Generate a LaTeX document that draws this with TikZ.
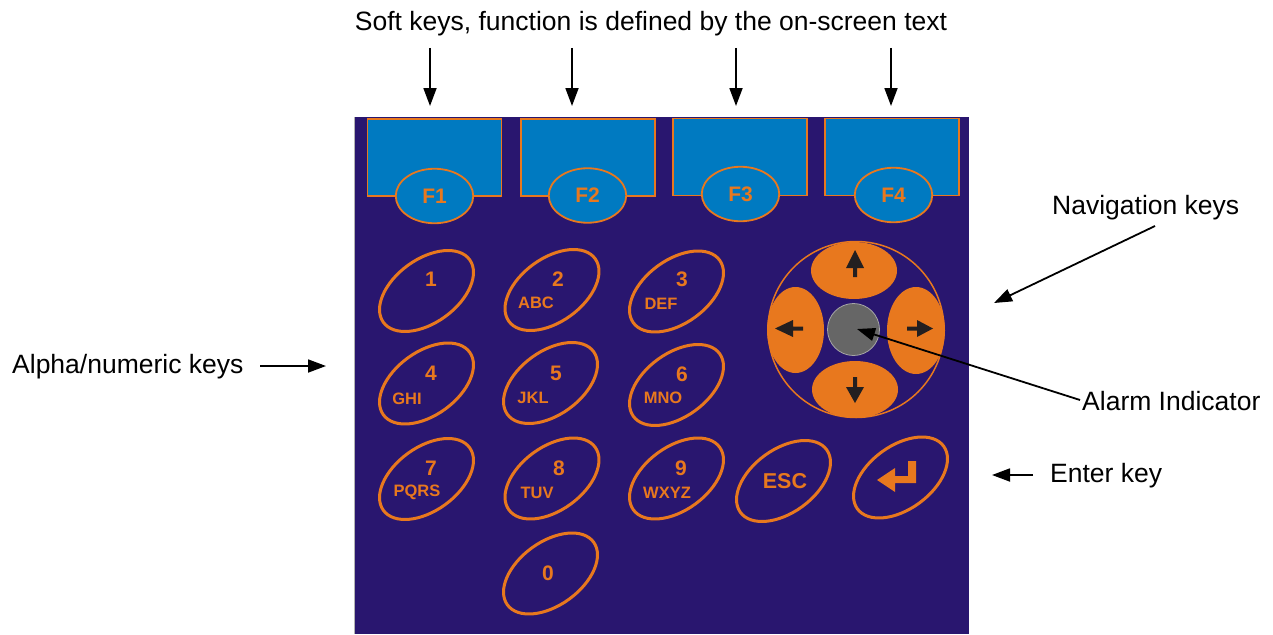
\documentclass[tikz,border=0pt]{standalone}
\usepackage{fontspec}
\setmainfont{Liberation Sans}
\usetikzlibrary{shapes.geometric,arrows.meta}
\definecolor{panelc}{RGB}{41,22,111}
\definecolor{orangec}{RGB}{232,120,30}
\definecolor{bluec}{RGB}{0,122,193}
\definecolor{grayc}{RGB}{102,102,102}
\definecolor{darkc}{RGB}{35,31,32}
\begin{document}
\begin{tikzpicture}[x=1pt,y=-1pt,
  annot/.style={font=\fontsize{26.5}{30}\selectfont, inner sep=0pt},
  pointer/.style={line width=1.8pt, -{Triangle[length=18pt,width=13pt]}},
  softrect/.style={rectangle, draw=orangec, fill=bluec, line width=1.8pt, minimum width=134pt, minimum height=77pt, inner sep=0pt},
  softell/.style={ellipse, draw=orangec, fill=bluec, line width=1.8pt, minimum width=77.5pt, minimum height=54.5pt, inner sep=0pt, text=orangec, font=\fontsize{21}{25}\selectfont\bfseries},
  keyell/.style={ellipse, draw=orangec, line width=3pt, minimum width=106.6pt, minimum height=63.4pt, inner sep=0pt, rotate=36},
  num/.style={text=orangec, inner sep=0pt, font=\fontsize{21}{25}\selectfont\bfseries},
  let/.style={text=orangec, inner sep=0pt, font=\fontsize{16.5}{19}\selectfont\bfseries},
  navell/.style={ellipse, fill=orangec, inner sep=0pt},
  navarrow/.style={fill=darkc}
]
\useasboundingbox (0,0) rectangle (1273,634);
% panel
\fill[panelc] (354,117) rectangle (969,634);
\draw[gray!60, line width=0.8pt] (354,117) -- (354,634);

% soft keys
\node[softrect] (r1) at (434.5,157.5) {};
\node[softrect] (r2) at (588,157.5) {};
\node[softrect] (r3) at (740,157) {};
\node[softrect] (r4) at (892,157) {};
\node[softell] (f1) at (434.5,196) {F1};
\node[softell] (f2) at (587.5,195.5) {F2};
\node[softell] (f3) at (740.5,194) {F3};
\node[softell] (f4) at (893.5,195) {F4};

% title and soft key arrows
\node[annot, anchor=base] (title) at (651,31) {Soft keys, function is defined by the on-screen text};
\coordinate (t1) at (430,48); \coordinate (e1) at (430,106);
\coordinate (t2) at (572,48); \coordinate (e2) at (572,106);
\coordinate (t3) at (736,48); \coordinate (e3) at (736,106);
\coordinate (t4) at (891,48); \coordinate (e4) at (891,106);
\draw[pointer] (t1) -- (e1);
\draw[pointer] (t2) -- (e2);
\draw[pointer] (t3) -- (e3);
\draw[pointer] (t4) -- (e4);

% keypad
\node[keyell] (k1) at (426.5,291) {};
\node[keyell] (k2) at (552,290) {};
\node[keyell] (k3) at (676.5,291.5) {};
\node[keyell] (k4) at (426.5,383.5) {};
\node[keyell] (k5) at (550.5,383) {};
\node[keyell] (k6) at (676.5,385) {};
\node[keyell] (k7) at (426.5,479) {};
\node[keyell] (k8) at (552,478.5) {};
\node[keyell] (k9) at (676.5,478.5) {};
\node[keyell] (k0) at (550.5,573.5) {};
\node[keyell] (kesc) at (783.5,481) {};
\node[keyell] (kent) at (900.5,477.5) {};

\node[num] (n1) at (431,279) {1};
\node[num] (n2) at (558,279) {2};
\node[let] (l2) at (536,303) {ABC};
\node[num] (n3) at (682,279) {3};
\node[let] (l3) at (661,304) {DEF};
\node[num] (n4) at (431,373) {4};
\node[let] (l4) at (407,399) {GHI};
\node[num] (n5) at (556,373) {5};
\node[let] (l5) at (533,398) {JKL};
\node[num] (n6) at (682,374) {6};
\node[let] (l6) at (663,398) {MNO};
\node[num] (n7) at (431,468) {7};
\node[let] (l7) at (417,492) {PQRS};
\node[num] (n8) at (559,468) {8};
\node[let] (l8) at (537,493) {TUV};
\node[num] (n9) at (681,468) {9};
\node[let] (l9) at (667,493) {WXYZ};
\node[num] (n0) at (548,573) {0};
\node[num, font=\fontsize{21.5}{25}\selectfont\bfseries] (nesc) at (785,481) {ESC};
\fill[orangec] (877,480) -- (895,468) -- (895,476) -- (908,476) -- (908,461) -- (916,461) -- (916,483) -- (895,483) -- (895,492) -- cycle;

% navigation cluster
\node[circle, draw=orangec, line width=1.5pt, minimum size=176pt, inner sep=0pt] (navring) at (856,329.5) {};
\node[navell, minimum width=86pt, minimum height=57pt] (nup) at (854,270.5) {};
\node[navell, minimum width=86pt, minimum height=57pt] (ndown) at (855,389.5) {};
\node[navell, minimum width=57pt, minimum height=86pt] (nleft) at (795.5,330) {};
\node[navell, minimum width=58pt, minimum height=87pt] (nright) at (916,330.5) {};
\node[circle, fill=grayc, draw=gray!70, line width=0.8pt, minimum size=52pt, inner sep=0pt] (alarm) at (853.5,329.5) {};
% direction arrows
\fill[navarrow] (855,250) -- (864,268) -- (857,268) -- (857,277) -- (853,277) -- (853,268) -- (846,268) -- cycle;
\fill[navarrow] (855,403) -- (864,387) -- (857,387) -- (857,377) -- (853,377) -- (853,387) -- (846,387) -- cycle;
\fill[navarrow] (775,328.5) -- (793,320) -- (793,326.5) -- (803,326.5) -- (803,330.5) -- (793,330.5) -- (793,337) -- cycle;
\fill[navarrow] (933,328.5) -- (917,320) -- (917,326.5) -- (907,326.5) -- (907,330.5) -- (917,330.5) -- (917,337) -- cycle;

% side annotations
\node[annot, anchor=base west] (lnav) at (1052,214) {Navigation keys};
\coordinate (navs) at (1155,226);
\coordinate (nave) at (994,303);
\draw[pointer] (navs) -- (nave);

\node[annot, anchor=base west] (lalarm) at (1082,410) {Alarm Indicator};
\coordinate (alarms) at (1080,400);
\coordinate (alarme) at (857,329);
\draw[pointer] (alarms) -- (alarme);

\node[annot, anchor=base west] (lenter) at (1050,482) {Enter key};
\coordinate (ents) at (1033,475);
\coordinate (ente) at (992,475);
\draw[pointer] (ents) -- (ente);

\node[annot, anchor=base west] (lalpha) at (12,373) {Alpha/numeric keys};
\coordinate (alphs) at (260,366);
\coordinate (alphe) at (326,366);
\draw[pointer] (alphs) -- (alphe);
\end{tikzpicture}
\end{document}
